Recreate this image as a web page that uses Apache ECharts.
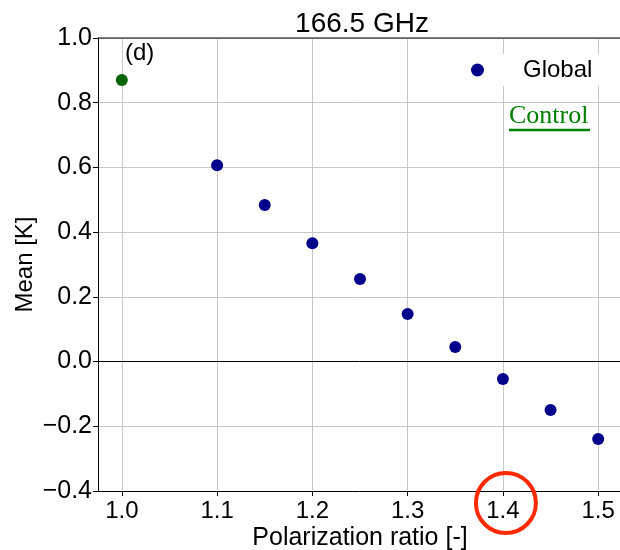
<!DOCTYPE html>
<html><head><meta charset="utf-8">
<script src="https://cdn.jsdelivr.net/npm/echarts@6/dist/echarts.min.js"></script>
<style>html,body{margin:0;padding:0;background:#fff}#c{width:620px;height:550px}</style>
</head><body><div id="c"></div>
<script>
const xTicks = [1.0, 1.1, 1.2, 1.3, 1.4, 1.5];
const globalX = [1.1, 1.15, 1.2, 1.25, 1.3, 1.35, 1.4, 1.45, 1.5];
const globalY = [0.607, 0.484, 0.366, 0.255, 0.147, 0.045, -0.054, -0.150, -0.239];
const controlX = [1.0];
const controlY = [0.870];

const chart = echarts.init(document.getElementById('c'), null, {renderer: 'canvas'});
const font = 'Liberation Sans, Arial, sans-serif';
const option = {
  animation: false,
  title: {text: '166.5 GHz', left: 357, top: 5, textAlign: 'center',
    textStyle: {fontFamily: font, fontSize: 28, fontWeight: 'normal', color: '#000'}},
  grid: {left: 98, right: -2, top: 38, bottom: 59, containLabel: false, outerBoundsMode: 'none'},
  legend: {data: ['Global'], left: 463, top: 54, backgroundColor: '#fff', padding: [4, 20, 4, 8],
    itemWidth: 13, itemHeight: 13, icon: 'circle',
    textStyle: {fontFamily: font, fontSize: 24, color: '#000', padding: [0, 0, 0, 34]}},
  xAxis: {type: 'value', min: 0.975, max: 1.525,
    name: 'Polarization ratio [-]', nameLocation: 'middle', nameGap: 35, nameMoveOverlap: false,
    nameTextStyle: {fontFamily: font, fontSize: 25, color: '#000'},
    axisLine: {show: true, onZero: false, lineStyle: {color: '#000', width: 1}},
    axisTick: {show: true, customValues: xTicks, length: 5, lineStyle: {color: '#000'}},
    axisLabel: {customValues: xTicks, fontFamily: font, fontSize: 24, color: '#000', margin: 8,
      formatter: v => v.toFixed(1)},
    splitLine: {show: true, lineStyle: {color: '#c8c8c8', width: 1}}},
  yAxis: {type: 'value', min: -0.4, max: 1.0, interval: 0.2,
    name: 'Mean [K]', nameLocation: 'middle', nameGap: 61, nameMoveOverlap: false,
    nameTextStyle: {fontFamily: font, fontSize: 24, color: '#000'},
    axisLine: {show: true, lineStyle: {color: '#000', width: 1}},
    axisTick: {show: true, length: 5, lineStyle: {color: '#000'}},
    axisLabel: {fontFamily: font, fontSize: 25, color: '#000', margin: 6,
      formatter: v => (v < 0 ? '\u2212' : '') + Math.abs(v).toFixed(1)},
    splitLine: {show: true, lineStyle: {color: '#c8c8c8', width: 1}}},
  series: [
    {name: 'Global', type: 'scatter', symbolSize: 12, itemStyle: {color: '#00008b', opacity: 1},
      data: globalX.map((x, i) => [x, globalY[i]]), z: 5,
      markLine: {silent: true, symbol: 'none', label: {show: false},
        lineStyle: {color: '#000', width: 1, type: 'solid', opacity: 1}, data: [{yAxis: 0}]}},
    {name: 'Control', type: 'scatter', symbolSize: 12, itemStyle: {color: '#006400', opacity: 1},
      data: controlX.map((x, i) => [x, controlY[i]]), z: 5}
  ]
};
chart.setOption(option);
const tl = chart.convertToPixel({gridIndex: 0}, [0.975, 1.0]);
const p14 = chart.convertToPixel({xAxisIndex: 0}, 1.4);
chart.setOption({graphic: [
  {type: 'line', shape: {x1: tl[0], y1: tl[1], x2: 620, y2: tl[1]}, style: {stroke: '#000', lineWidth: 1}, z: 10},
  {type: 'text', left: 125, top: 41, style: {text: '(d)', font: '24px ' + font, fill: '#000'}, z: 10},
  {type: 'text', left: 509, top: 103, style: {text: 'Control', font: '26px Liberation Serif, Times New Roman, serif', fill: '#008000'}, z: 10},
  {type: 'line', shape: {x1: 509, y1: 130, x2: 590, y2: 130}, style: {stroke: '#008000', lineWidth: 2.5}, z: 10},
  {type: 'circle', shape: {cx: p14 + 3, cy: 503, r: 30}, style: {fill: 'none', stroke: '#ff2a00', lineWidth: 4}, z: 10}
]});
</script></body></html>
